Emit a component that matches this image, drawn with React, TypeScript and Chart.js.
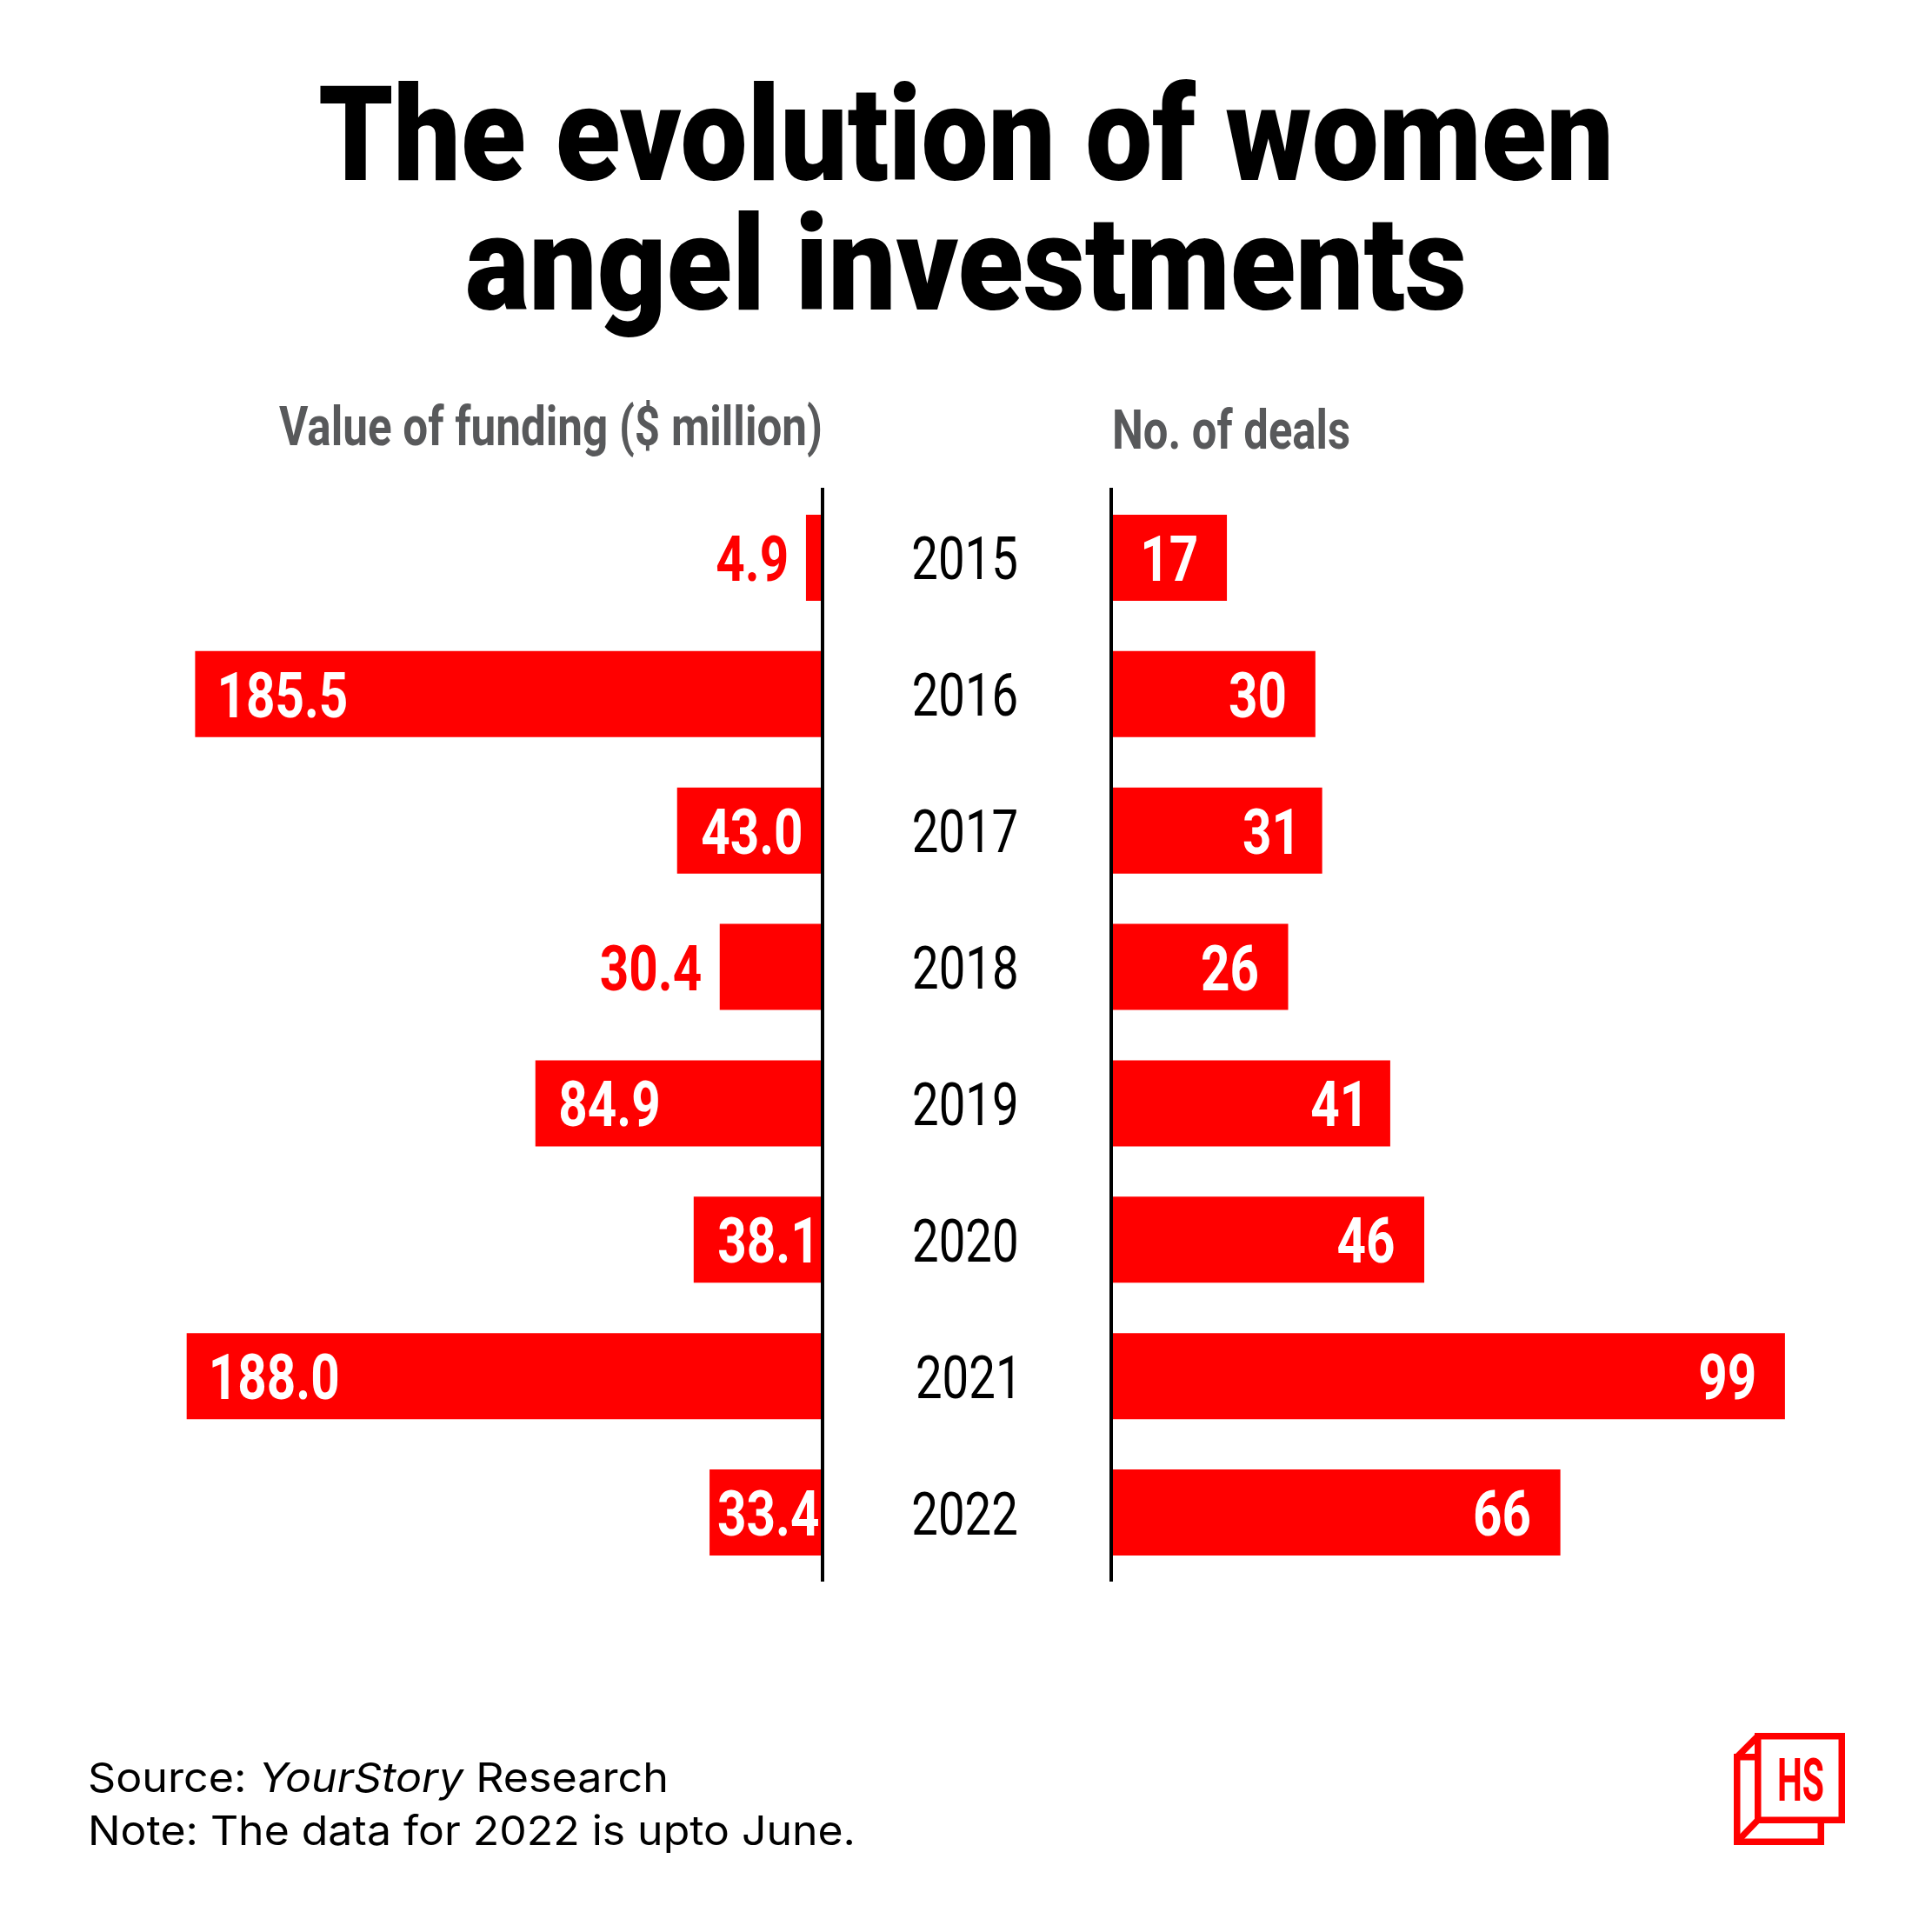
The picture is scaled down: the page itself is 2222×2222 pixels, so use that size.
import React, { useEffect, useRef } from 'react';
import { Chart, registerables } from 'chart.js';

Chart.register(...registerables);

// ---------- data ----------
const YEARS = ['2015', '2016', '2017', '2018', '2019', '2020', '2021', '2022'];
const FUNDING = [4.9, 185.5, 43.0, 30.4, 84.9, 38.1, 188.0, 33.4]; // $ million
const DEALS = [17, 30, 31, 26, 41, 46, 99, 66];
const FUNDING_MAX = 200;
const DEALS_MAX = 110;

const TITLE_LINES = ['The evolution of women', 'angel investments'];
const LEFT_HEADER = 'Value of funding ($ million)';
const RIGHT_HEADER = 'No. of deals';

// ---------- style ----------
const RED = '#ff0000';
const GREY = '#58595b';
const LABEL_FONT = '700 73px Roboto, "Liberation Sans", Arial, sans-serif';
const LABEL_SX = 0.8;
const YEAR_FONT = '400 69px Roboto, "Liberation Sans", Arial, sans-serif';
const YEAR_SX = 0.79;

type Align = 'left' | 'right' | 'center';

function drawText(
  ctx: CanvasRenderingContext2D,
  text: string,
  x: number,
  yCenter: number,
  align: Align,
  sx: number,
  font: string,
  color: string
) {
  ctx.save();
  ctx.font = font;
  ctx.textAlign = 'left';
  ctx.textBaseline = 'alphabetic';
  const m = ctx.measureText(text);
  const capH = ctx.measureText('0').actualBoundingBoxAscent;
  const abl = m.actualBoundingBoxLeft;
  const abr = m.actualBoundingBoxRight;
  let dx = abl;
  if (align === 'right') dx = -abr;
  if (align === 'center') dx = -(abr - abl) / 2;
  ctx.translate(x, yCenter + capH / 2);
  ctx.scale(sx, 1);
  ctx.fillStyle = color;
  ctx.fillText(text, dx, 0);
  ctx.restore();
}

function inkWidth(ctx: CanvasRenderingContext2D, text: string, font: string, sx: number) {
  ctx.save();
  ctx.font = font;
  const m = ctx.measureText(text);
  ctx.restore();
  return (m.actualBoundingBoxLeft + m.actualBoundingBoxRight) * sx;
}

const leftLabels = {
  id: 'leftLabels',
  afterDatasetsDraw(chart: any) {
    const ctx = chart.ctx;
    const meta = chart.getDatasetMeta(0);
    meta.data.forEach((bar: any, i: number) => {
      const p = bar.getProps(['x', 'y', 'base'], true);
      const start = Math.min(p.x, p.base);
      const end = Math.max(p.x, p.base);
      const barW = end - start;
      const text = FUNDING[i].toFixed(1);
      const w = inkWidth(ctx, text, LABEL_FONT, LABEL_SX);
      if (w + 10 <= barW) {
        const pad = Math.min(29, barW - w - 5);
        drawText(ctx, text, start + pad, p.y, 'left', LABEL_SX, LABEL_FONT, '#ffffff');
      } else {
        drawText(ctx, text, start - 22, p.y, 'right', LABEL_SX, LABEL_FONT, RED);
      }
    });
  },
};

const rightLabels = {
  id: 'rightLabels',
  afterDatasetsDraw(chart: any) {
    const ctx = chart.ctx;
    const meta = chart.getDatasetMeta(0);
    const yearX = chart.chartArea.left - 168;
    meta.data.forEach((bar: any, i: number) => {
      const p = bar.getProps(['x', 'y', 'base'], true);
      const end = Math.max(p.x, p.base);
      drawText(ctx, String(DEALS[i]), end - 35, p.y, 'right', LABEL_SX, LABEL_FONT, '#ffffff');
      drawText(ctx, String(chart.data.labels[i]), yearX, p.y, 'center', YEAR_SX, YEAR_FONT, '#000000');
    });
  },
};

const BAR_PCT = 99 / 156.875;

function LeftChart() {
  const ref = useRef<HTMLCanvasElement>(null);
  useEffect(() => {
    const chart = new Chart(ref.current!, {
      type: 'bar',
      data: {
        labels: YEARS,
        datasets: [
          {
            data: FUNDING,
            backgroundColor: RED,
            borderWidth: 0,
            categoryPercentage: 1,
            barPercentage: BAR_PCT,
          },
        ],
      },
      options: {
        responsive: false,
        animation: false,
        indexAxis: 'y',
        layout: { padding: { left: 68, right: 20, top: 20, bottom: 20 } },
        plugins: { legend: { display: false }, tooltip: { enabled: false } },
        scales: {
          x: { display: false, reverse: true, min: 0, max: FUNDING_MAX },
          y: {
            type: 'category',
            position: 'right',
            offset: true,
            grid: { display: false },
            ticks: { display: false },
            border: { display: true, color: '#000000', width: 4, z: 1 },
            afterFit: (s: any) => {
              s.width = 0;
            },
          },
        },
      } as any,
      plugins: [leftLabels],
    });
    return () => chart.destroy();
  }, []);
  return (
    <canvas
      ref={ref}
      width={866}
      height={1295}
      style={{ position: 'absolute', left: 100, top: 543, display: 'block' }}
    />
  );
}

function RightChart() {
  const ref = useRef<HTMLCanvasElement>(null);
  useEffect(() => {
    const chart = new Chart(ref.current!, {
      type: 'bar',
      data: {
        labels: YEARS,
        datasets: [
          {
            data: DEALS,
            backgroundColor: RED,
            borderWidth: 0,
            categoryPercentage: 1,
            barPercentage: BAR_PCT,
          },
        ],
      },
      options: {
        responsive: false,
        animation: false,
        indexAxis: 'y',
        layout: { padding: { left: 0, right: 61, top: 20, bottom: 20 } },
        plugins: { legend: { display: false }, tooltip: { enabled: false } },
        scales: {
          x: { display: false, min: 0, max: DEALS_MAX },
          y: {
            type: 'category',
            position: 'left',
            offset: true,
            grid: { display: false },
            ticks: { display: false },
            border: { display: true, color: '#000000', width: 4, z: 1 },
            afterFit: (s: any) => {
              s.width = 378;
            },
          },
        },
      } as any,
      plugins: [rightLabels],
    });
    return () => chart.destroy();
  }, []);
  return (
    <canvas
      ref={ref}
      width={1300}
      height={1295}
      style={{ position: 'absolute', left: 900, top: 543, display: 'block' }}
    />
  );
}

function Overlay() {
  const titleFont = 'Roboto, "Liberation Sans", Arial, sans-serif';
  const bodyFont = 'Inter, "Noto Sans", "Open Sans", sans-serif';
  return (
    <svg
      width={2222}
      height={2222}
      viewBox="0 0 2222 2222"
      style={{ position: 'absolute', left: 0, top: 0, pointerEvents: 'none' }}
    >
      <text
        x={1111}
        y={207}
        textAnchor="middle"
        fontFamily={titleFont}
        fontWeight={900}
        fontSize={152}
        textLength={1490}
        lengthAdjust="spacingAndGlyphs"
        fill="#000"
      >
        {TITLE_LINES[0]}
      </text>
      <text
        x={1111}
        y={356}
        textAnchor="middle"
        fontFamily={titleFont}
        fontWeight={900}
        fontSize={152}
        textLength={1152}
        lengthAdjust="spacingAndGlyphs"
        fill="#000"
      >
        {TITLE_LINES[1]}
      </text>
      <text
        x={946}
        y={512}
        textAnchor="end"
        fontFamily={titleFont}
        fontWeight={700}
        fontSize={63}
        textLength={625}
        lengthAdjust="spacingAndGlyphs"
        fill={GREY}
      >
        {LEFT_HEADER}
      </text>
      <text
        x={1279}
        y={516}
        textAnchor="start"
        fontFamily={titleFont}
        fontWeight={700}
        fontSize={63}
        textLength={274}
        lengthAdjust="spacingAndGlyphs"
        fill={GREY}
      >
        {RIGHT_HEADER}
      </text>
      <text
        x={101}
        y={2061}
        fontFamily={bodyFont}
        fontWeight={400}
        fontSize={47}
        textLength={668}
        lengthAdjust="spacingAndGlyphs"
        fill="#000"
      >
        Source: <tspan fontStyle="italic">YourStory</tspan> Research
      </text>
      <text
        x={101}
        y={2122}
        fontFamily={bodyFont}
        fontWeight={400}
        fontSize={47}
        textLength={883}
        lengthAdjust="spacingAndGlyphs"
        fill="#000"
      >
        Note: The data for 2022 is upto June.
      </text>
      {/* logo */}
      <g stroke={RED} strokeWidth={7.5} fill="none" strokeLinejoin="miter">
        <rect x={1997.75} y={2020.75} width={96.5} height={97.5} />
        <line x1={1997.75} y1={2020.75} x2={2021.75} y2={1996.75} />
        <line x1={1997.75} y1={2118.25} x2={2021.75} y2={2093.25} />
        <rect x={2021.75} y={1996.75} width={96.5} height={96.5} fill="#fff" />
      </g>
      <text
        x={2044}
        y={2071}
        fontFamily={titleFont}
        fontWeight={700}
        fontSize={68}
        textLength={54}
        lengthAdjust="spacingAndGlyphs"
        fill={RED}
      >
        HS
      </text>
    </svg>
  );
}

export default function App() {
  return (
    <div
      style={{
        position: 'absolute',
        left: 0,
        top: 0,
        width: 2222,
        height: 2222,
        background: '#ffffff',
        overflow: 'hidden',
      }}
    >
      <Overlay />
      <LeftChart />
      <RightChart />
    </div>
  );
}
